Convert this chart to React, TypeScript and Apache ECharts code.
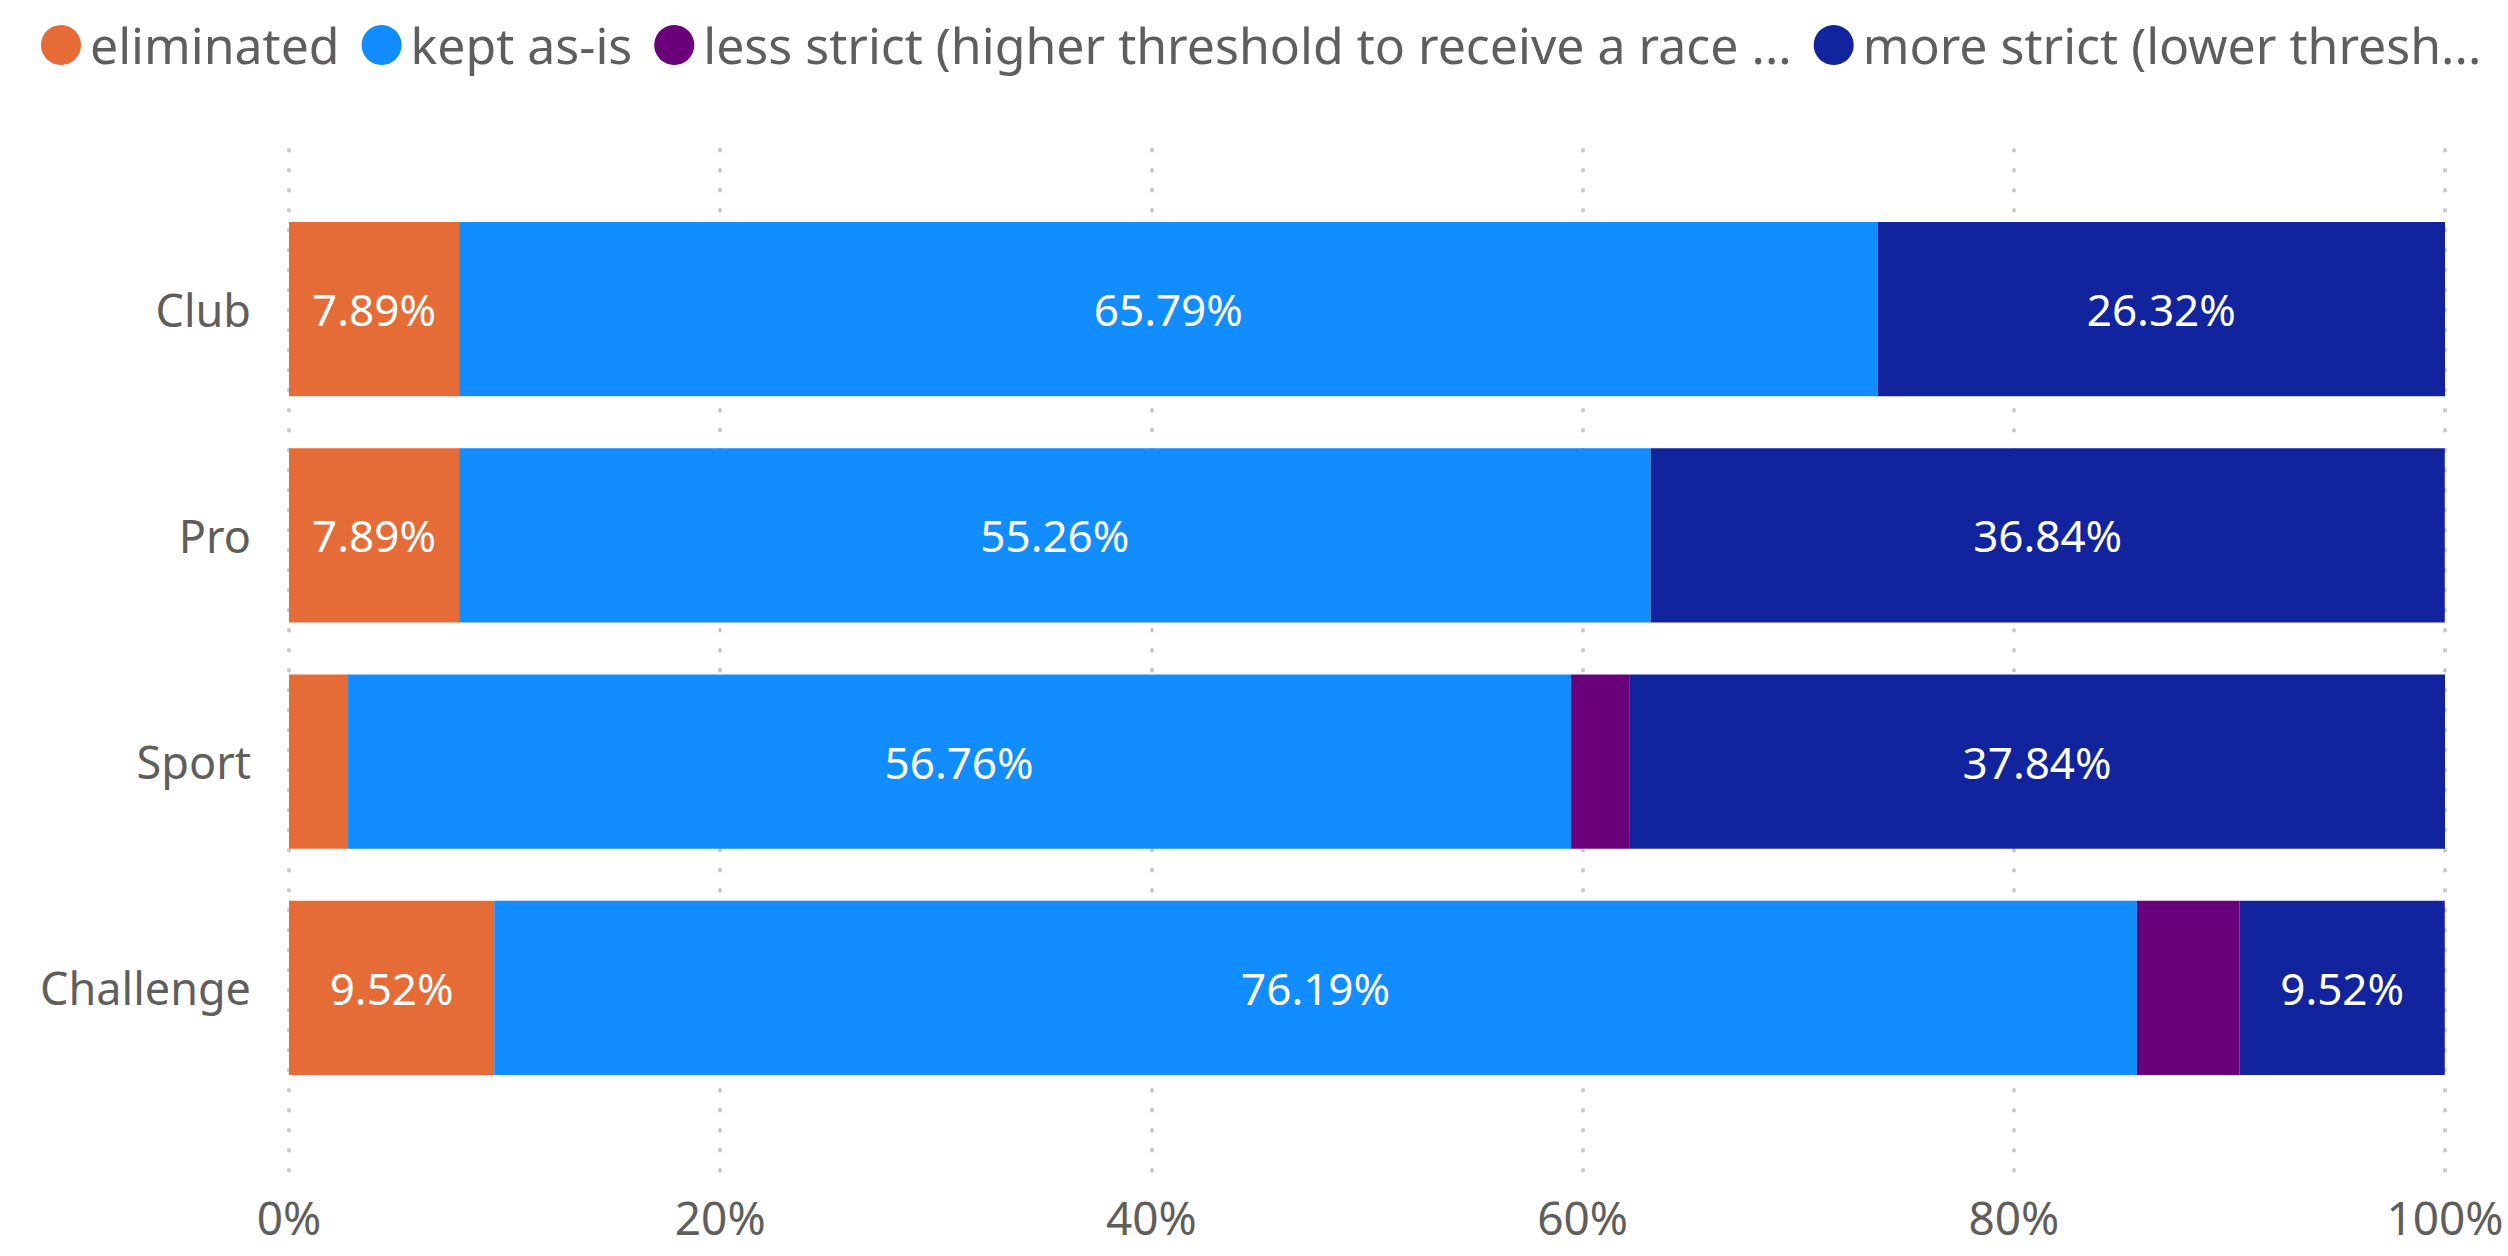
import React, { useEffect, useRef } from "react";
import * as echarts from "echarts";

const categories = ["Club", "Pro", "Sport", "Challenge"];
const seriesNames = [
  "eliminated",
  "kept as-is",
  "less strict (higher threshold to receive a race ...",
  "more strict (lower thresh...",
];
const eliminated = [7.89, 7.89, 2.7, 9.52];
const keptAsIs = [65.79, 55.26, 56.76, 76.19];
const lessStrict = [0, 0, 2.7, 4.76];
const moreStrict = [26.32, 36.84, 37.84, 9.52];
const colors = ["#E66C37", "#118DFF", "#6B007B", "#12239E"];
const xTicks = [0, 20, 40, 60, 80, 100];

const FONT = "'Noto Sans', 'Open Sans', sans-serif";

export default function App() {
  const ref = useRef<HTMLDivElement>(null);
  useEffect(() => {
    if (!ref.current) return;
    const chart = echarts.init(ref.current, undefined, { renderer: "svg" });
    const values = [eliminated, keptAsIs, lessStrict, moreStrict];
    const series = seriesNames.map((name, i) => ({
      name,
      type: "bar",
      stack: "total",
      xAxisIndex: 1,
      yAxisIndex: 1,
      barWidth: "77%",
      itemStyle: { color: colors[i] },
      label: {
        show: true,
        position: "inside",
        color: "#ffffff",
        fontFamily: FONT,
        fontSize: 44,
        formatter: (p: any) => (p.value >= 5 ? p.value.toFixed(2) + "%" : ""),
      },
      data: values[i],
    }));
    chart.setOption({
      animation: false,
      backgroundColor: "#ffffff",
      textStyle: { fontFamily: FONT },
      legend: {
        left: 36,
        top: 15,
        icon: "circle",
        itemWidth: 40,
        itemHeight: 40,
        itemGap: 22,
        textStyle: {
          color: "#605E5C",
          fontSize: 50,
          lineHeight: 50,
          fontFamily: FONT,
          padding: [0, 0, 0, 4],
        },
        data: seriesNames,
      },
      grid: [
        { left: 289, right: 63, top: 150, bottom: 80 },
        { left: 289, right: 63, top: 196, bottom: 155 },
      ],
      xAxis: [
        {
          type: "value",
          gridIndex: 0,
          min: 0,
          max: 100,
          interval: 20,
          axisLine: { show: false },
          axisTick: { show: false },
          splitLine: {
            show: true,
            lineStyle: { color: "#C8C8C8", width: 4, type: [0.5, 19.5], cap: "round" },
          },
          axisLabel: {
            color: "#605E5C",
            fontSize: 46,
            fontFamily: FONT,
            margin: 18,
            formatter: (v: number) => (xTicks.includes(v) ? v + "%" : ""),
          },
        },
        {
          type: "value",
          gridIndex: 1,
          min: 0,
          max: 100,
          show: false,
          splitLine: { show: false },
        },
      ],
      yAxis: [
        {
          type: "category",
          gridIndex: 0,
          data: categories,
          show: false,
        },
        {
          type: "category",
          gridIndex: 1,
          data: categories,
          inverse: true,
          axisLine: { show: false },
          axisTick: { show: false },
          splitLine: { show: false },
          axisLabel: { color: "#605E5C", fontSize: 45, fontFamily: FONT, margin: 38 },
        },
      ],
      series,
    });
    return () => chart.dispose();
  }, []);
  return (
    <div
      ref={ref}
      style={{ position: "absolute", left: 0, top: 0, width: 2508, height: 1256 }}
    />
  );
}
